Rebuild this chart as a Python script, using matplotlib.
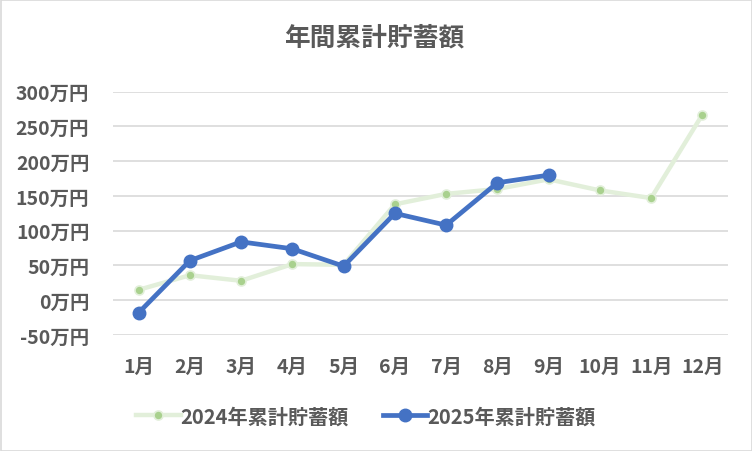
import matplotlib
matplotlib.use("Agg")
import matplotlib.pyplot as plt
from matplotlib.patches import Rectangle

plt.rcParams['font.family'] = ['Noto Sans CJK JP', 'DejaVu Sans']

months = ["1月", "2月", "3月", "4月", "5月", "6月", "7月", "8月", "9月", "10月", "11月", "12月"]
savings_2024 = [15, 36, 28, 52, 51, 138, 153, 160, 174, 158, 147, 267]
savings_2025 = [-18, 57, 84, 74, 49, 125, 108, 169, 180]
yticks = [-50, 0, 50, 100, 150, 200, 250, 300]
title = "年間累計貯蓄額"
label_2024 = "2024年累計貯蓄額"
label_2025 = "2025年累計貯蓄額"

TEXT = "#595959"
GRID = "#d9d9d9"

fig = plt.figure(figsize=(7.52, 4.52), dpi=100)
ax = fig.add_axes([113/752, 116/452, 615/752, 243.3/452])

x24 = list(range(len(savings_2024)))
x25 = list(range(len(savings_2025)))
ax.plot(x24, savings_2024, color="#e2efda", lw=3.2, marker="o", ms=6.5,
        mfc="#a9d18e", mec="#e2efda", mew=1.2, label=label_2024, zorder=3)
ax.plot(x25, savings_2025, color="#4472c4", lw=3.4, marker="o", ms=9,
        mfc="#4472c4", mec="#4472c4", label=label_2025, zorder=4)

ax.set_xlim(-0.5, len(months) - 0.5)
ax.set_ylim(-50, 300)
ax.set_xticks(range(len(months)))
ax.set_xticklabels(months)
ax.set_yticks(yticks)
ax.set_yticklabels([f"{v}万円" for v in yticks])
ax.tick_params(axis='both', length=0, labelsize=14, labelcolor=TEXT)
ax.tick_params(axis='x', pad=16)
ax.tick_params(axis='y', pad=17)
for lab in ax.get_xticklabels() + ax.get_yticklabels():
    lab.set_fontweight('bold')
ax.grid(axis='y', color=GRID, lw=1.2)
ax.set_axisbelow(True)
for s in ax.spines.values():
    s.set_visible(False)

fig.text(374/752, 1 - 38/452, title, ha='center', va='center', fontsize=18.5,
         color=TEXT, fontweight='bold')

leg = fig.legend(loc='center', bbox_to_anchor=(366/752, 1 - 417/452), ncol=2,
                 frameon=False, fontsize=14.5, handlelength=2.2, columnspacing=1.7,
                 handletextpad=0.0)
for t in leg.get_texts():
    t.set_color(TEXT)
    t.set_fontweight('bold')

fig.patches.append(Rectangle((0.5/752, 0.5/452), 751/752, 451/452, transform=fig.transFigure,
                             fill=False, edgecolor=GRID, lw=1.2))

fig.savefig("out.png", dpi=100)
